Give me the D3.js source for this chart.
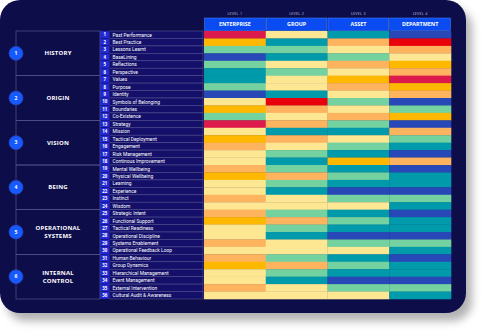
<!DOCTYPE html>
<html>
<head>
<meta charset="utf-8">
<script src="https://cdn.jsdelivr.net/npm/d3@7"></script>
<style>
  html, body { margin: 0; padding: 0; background: #ffffff; }
  svg { display: block; }
</style>
</head>
<body>
<div id="chart"></div>
<script>
// Column headers
const levels = ["LEVEL 1", "LEVEL 2", "LEVEL 3", "LEVEL 4"];
const units = ["ENTERPRISE", "GROUP", "ASSET", "DEPARTMENT"];

// Groups (6 rows each)
const groupNames = [["HISTORY"], ["ORIGIN"], ["VISION"], ["BEING"], ["OPERATIONAL", "SYSTEMS"], ["INTERNAL", "CONTROL"]];
const groupSizes = [6, 6, 6, 6, 6, 6];

const items = [
  "Past Performance", "Best Practice", "Lessons Learnt", "BaseLining", "Reflections", "Perspective",
  "Values", "Purpose", "Identity", "Symbols of Belonging", "Boundaries", "Co-Existence",
  "Strategy", "Mission", "Tactical Deployment", "Engagement", "Risk Management", "Continous Improvement",
  "Mental Wellbeing", "Physical Wellbeing", "Learning", "Experience", "Instinct", "Wisdom",
  "Strategic Intent", "Functional Support", "Tactical Readiness", "Operational Discipline", "Systems Enablement", "Operational Feedback Loop",
  "Human Behaviour", "Group Dynamics", "Hierarchical Management", "Event Management", "External Intervention", "Cultural Audit & Awareness"
];

// Rating per item and level (1 = worst ... 8 = best)
const enterprise = [2,3,6,8,6,7, 7,6,8,5,3,6, 2,5,3,4,5,5, 4,3,5,5,4,5, 4,3,5,5,4,5, 4,3,5,5,4,5];
const group      = [5,7,6,7,5,6, 5,5,7,1,4,5, 4,7,4,5,6,7, 6,4,6,7,5,5, 6,4,6,7,5,5, 6,4,6,7,5,5];
const asset      = [7,4,5,6,4,5, 3,4,5,6,5,4, 6,7,5,6,7,3, 7,6,7,8,6,5, 7,6,7,8,6,5, 7,6,7,8,6,5];
const department = [8,1,4,5,3,4, 2,3,4,8,6,3, 8,4,6,7,8,4, 8,7,7,8,6,7, 8,7,7,8,6,7, 8,7,7,8,6,7];

const ratings = [1, 2, 3, 4, 5, 6, 7, 8];
const ratingColors = ["#e8000b", "#dc1a4b", "#ffb800", "#feb35f", "#fee793", "#74d1a0", "#009aab", "#2848b8"];

const W = 484, H = 331;
const BG = "#0f0b4a";
const LINE = "#55538f";

const svg = d3.select("#chart").append("svg")
  .attr("width", W)
  .attr("height", H);

// Panel shadow
const defs = svg.append("defs");
const f = defs.append("filter").attr("id", "shadow")
  .attr("x", "-10%").attr("y", "-10%").attr("width", "130%").attr("height", "130%");
f.append("feDropShadow")
  .attr("dx", 6).attr("dy", 8).attr("stdDeviation", 4)
  .attr("flood-color", "#000").attr("flood-opacity", 0.3);

svg.append("rect")
  .attr("x", 0).attr("y", 0)
  .attr("width", 466).attr("height", 313)
  .attr("rx", 20)
  .attr("fill", BG)
  .attr("filter", "url(#shadow)");

// Scales
const rowIdx = d3.range(items.length);
const y = d3.scaleBand().domain(rowIdx).range([31, 299]);
const x = d3.scaleBand().domain(units).range([204, 451]);
const color = d3.scaleOrdinal().domain(ratings).range(ratingColors);

// Table data
const cells = [];
[enterprise, group, asset, department].forEach((col, c) => {
  col.forEach((v, i) => cells.push({ unit: units[c], i, v }));
});

// Heatmap cells
svg.append("g")
  .selectAll("rect")
  .data(cells)
  .join("rect")
  .attr("x", d => x(d.unit))
  .attr("y", d => y(d.i))
  .attr("width", x.bandwidth() + 0.3)
  .attr("height", y.bandwidth() + 0.3)
  .attr("fill", d => color(d.v));

// Header boxes and level labels
const head = svg.append("g");
head.selectAll("rect")
  .data(units)
  .join("rect")
  .attr("x", d => x(d) + 0.5)
  .attr("y", 18)
  .attr("width", x.bandwidth() - 1)
  .attr("height", 12.5)
  .attr("fill", "#0b4cf2")
  .attr("stroke", "#4d86ff")
  .attr("stroke-width", 0.5);

head.selectAll("text.unit")
  .data(units)
  .join("text")
  .attr("class", "unit")
  .attr("x", d => x(d) + x.bandwidth() / 2)
  .attr("y", 26.4)
  .attr("text-anchor", "middle")
  .attr("fill", "#fff")
  .attr("font-family", "'Open Sans', sans-serif")
  .attr("font-weight", 700)
  .attr("font-size", 5.4)
  .text(d => d);

head.selectAll("text.level")
  .data(levels)
  .join("text")
  .attr("class", "level")
  .attr("x", (d, i) => x(units[i]) + x.bandwidth() / 2)
  .attr("y", 15.2)
  .attr("text-anchor", "middle")
  .attr("fill", "#c4c3dc")
  .attr("font-family", "'Open Sans', sans-serif")
  .attr("font-size", 3.6)
  .attr("letter-spacing", 0.3)
  .text(d => d);

// Item rows: number cell + label cell
const rows = svg.append("g");
rows.selectAll("rect.lab")
  .data(rowIdx)
  .join("rect")
  .attr("class", "lab")
  .attr("x", 109.5)
  .attr("y", d => y(d))
  .attr("width", 93.5)
  .attr("height", y.bandwidth())
  .attr("fill", "#14106a")
  .attr("stroke", LINE)
  .attr("stroke-width", 0.6);

rows.selectAll("rect.num")
  .data(rowIdx)
  .join("rect")
  .attr("class", "num")
  .attr("x", 100)
  .attr("y", d => y(d))
  .attr("width", 9.5)
  .attr("height", y.bandwidth())
  .attr("fill", "#2229d8")
  .attr("stroke", "#141070")
  .attr("stroke-width", 0.5);

rows.selectAll("text.num")
  .data(rowIdx)
  .join("text")
  .attr("class", "num")
  .attr("x", 104.8)
  .attr("y", d => y(d) + y.bandwidth() / 2 + 1.7)
  .attr("text-anchor", "middle")
  .attr("fill", "#fff")
  .attr("font-family", "'Open Sans', sans-serif")
  .attr("font-weight", 700)
  .attr("font-size", 4.4)
  .text(d => d + 1);

rows.selectAll("text.lab")
  .data(rowIdx)
  .join("text")
  .attr("class", "lab")
  .attr("x", 112.5)
  .attr("y", d => y(d) + y.bandwidth() / 2 + 1.8)
  .attr("fill", "#ffffff")
  .attr("font-family", "Roboto, sans-serif")
  .attr("font-size", 4.9)
  .text(d => items[d]);

// Group boxes
const starts = groupSizes.map((s, i) => d3.sum(groupSizes.slice(0, i)));
const mid = i => y(starts[i]) + y.bandwidth() * groupSizes[i] / 2;
const grp = svg.append("g");
grp.selectAll("rect")
  .data(groupNames)
  .join("rect")
  .attr("x", 16)
  .attr("y", (d, i) => y(starts[i]))
  .attr("width", 84)
  .attr("height", (d, i) => y.bandwidth() * groupSizes[i])
  .attr("fill", "none")
  .attr("stroke", LINE)
  .attr("stroke-width", 0.7);

grp.selectAll("circle")
  .data(groupNames)
  .join("circle")
  .attr("cx", 16)
  .attr("cy", (d, i) => mid(i))
  .attr("r", 7)
  .attr("fill", "#1559ff")
  .attr("stroke", "#2a3fb0")
  .attr("stroke-width", 0.8);

grp.selectAll("text.gnum")
  .data(groupNames)
  .join("text")
  .attr("class", "gnum")
  .attr("x", 16)
  .attr("y", (d, i) => mid(i) + 1.8)
  .attr("text-anchor", "middle")
  .attr("fill", "#fff")
  .attr("font-family", "'Open Sans', sans-serif")
  .attr("font-weight", 700)
  .attr("font-size", 5)
  .text((d, i) => i + 1);

// Group names, one text per line
const nameLines = [];
groupNames.forEach((lines, i) => {
  lines.forEach((t, k) => nameLines.push({ t, i, k, n: lines.length }));
});
const lineGap = 8;
grp.selectAll("text.gname")
  .data(nameLines)
  .join("text")
  .attr("class", "gname")
  .attr("x", 58)
  .attr("y", d => mid(d.i) + 2.1 + (d.k - (d.n - 1) / 2) * lineGap)
  .attr("text-anchor", "middle")
  .attr("fill", "#fff")
  .attr("font-family", "'Open Sans', sans-serif")
  .attr("font-weight", 700)
  .attr("font-size", 6)
  .attr("letter-spacing", 0.2)
  .text(d => d.t);
</script>
</body>
</html>
